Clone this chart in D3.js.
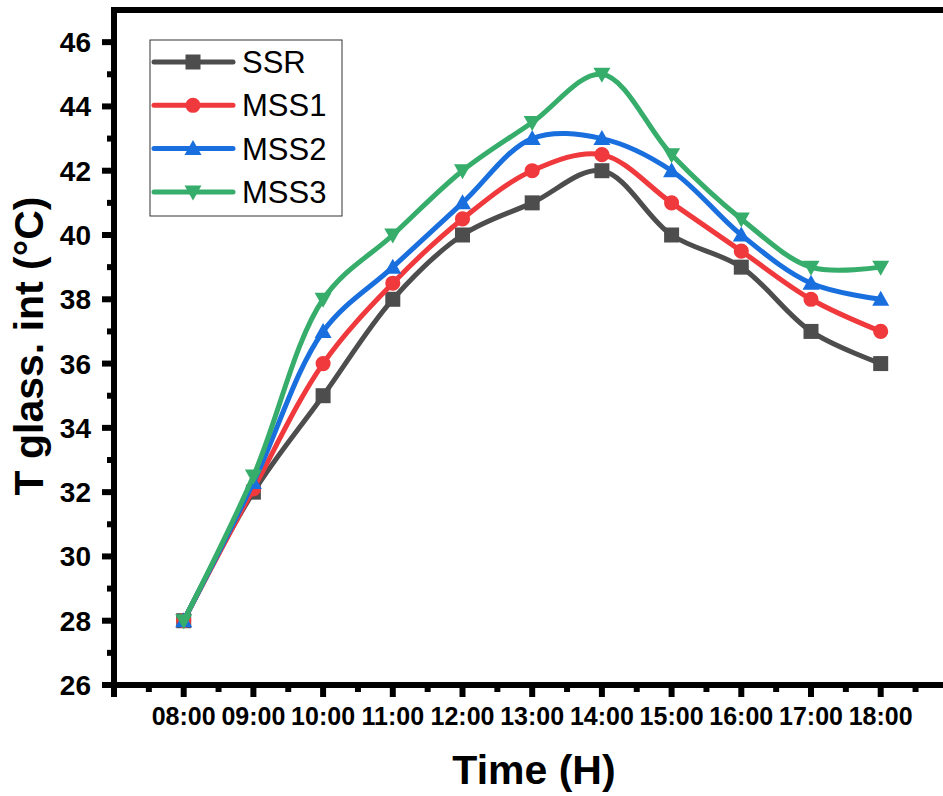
<!DOCTYPE html>
<html>
<head>
<meta charset="utf-8">
<script src="https://cdn.jsdelivr.net/npm/d3@7"></script>
<style>
	body { margin: 0; background: #fff; }
	svg { display: block; font-family: Arial, "Liberation Sans", sans-serif; }
</style>
</head>
<body>
<svg width="943" height="796"></svg>
<script>

	var hours = ["08:00", "09:00", "10:00", "11:00", "12:00", "13:00", "14:00", "15:00", "16:00", "17:00", "18:00"];

	var ssr  = [28, 32, 35, 38, 40, 41, 42, 40, 39, 37, 36];
	var mss1 = [28, 32.1, 36, 38.5, 40.5, 42, 42.5, 41, 39.5, 38, 37];
	var mss2 = [28, 32.3, 37, 39, 41, 43, 43, 42, 40, 38.5, 38];
	var mss3 = [28, 32.5, 38, 40, 42, 43.5, 45, 42.5, 40.5, 39, 39];

	var series_names = ["SSR", "MSS1", "MSS2", "MSS3"];
	var series_colors = ["#4d4d4d", "#f0393c", "#1a6fdf", "#37ad6b"];
	var series_symbols = [d3.symbolSquare, "circle", "tri_up", "tri_down"];

	var y_ticks = [26, 28, 30, 32, 34, 36, 38, 40, 42, 44, 46];

	var svg = d3.select("svg");

	// plot frame; right side falls just outside the picture like the original
	var left = 114, bottom = 685, top_y = 10;
	var x = d3.scaleLinear().domain([-1, 11]).range([left, left + 12 * 69.7]);
	var y = d3.scaleLinear().domain([26, 47]).range([bottom, top_y]);

	function marker_path(type, size){
		var s = size / 2;
		if(type === "circle"){
			return d3.symbol(d3.symbolCircle, size * size * 0.8)();
		} else if(type === "tri_up"){
			return "M0," + (-s - 1) + "L" + (s + 1) + "," + (s - 1) + "L" + (-s - 1) + "," + (s - 1) + "Z";
		} else if(type === "tri_down"){
			return "M0," + (s + 1) + "L" + (s + 1) + "," + (-s + 1) + "L" + (-s - 1) + "," + (-s + 1) + "Z";
		}
		return d3.symbol(type, size * size)();
	}

	// series
	var all_series = [ssr, mss1, mss2, mss3];
	var line = d3.line()
		.x(function(d, i){ return x(i); })
		.y(function(d){ return y(d); })
		.curve(d3.curveCatmullRom.alpha(0.5));

	var plot = svg.append("g");
	all_series.forEach(function(values, k){
		var g = plot.append("g");
		g.append("path")
			.attr("d", line(values))
			.attr("fill", "none")
			.attr("stroke", series_colors[k])
			.attr("stroke-width", 5)
			.attr("stroke-linejoin", "round");
		g.selectAll("path.m").data(values).enter()
			.append("path")
			.attr("class", "m")
			.attr("transform", function(d, i){ return "translate(" + x(i) + "," + y(d) + ")"; })
			.attr("d", marker_path(series_symbols[k], 15))
			.attr("fill", series_colors[k]);
	});

	// axes
	var x_major = d3.range(-1, 12);
	var x_minor = d3.range(-0.5, 12, 1);

	var axis = svg.append("g");
	axis.selectAll("line.xmaj").data(x_major).enter().append("line")
		.attr("x1", function(d){ return x(d); }).attr("x2", function(d){ return x(d); })
		.attr("y1", bottom).attr("y2", bottom + 12)
		.attr("stroke", "#000").attr("stroke-width", 6);
	axis.selectAll("line.xmin").data(x_minor).enter().append("line")
		.attr("x1", function(d){ return x(d); }).attr("x2", function(d){ return x(d); })
		.attr("y1", bottom).attr("y2", bottom + 7)
		.attr("stroke", "#000").attr("stroke-width", 6);

	axis.selectAll("text.xl").data(hours).enter().append("text")
		.attr("x", function(d, i){ return x(i); })
		.attr("y", 725)
		.attr("text-anchor", "middle")
		.attr("font-size", 25).attr("font-weight", "bold")
		.text(function(d){ return d; });

	var y_minor = d3.range(27, 47, 2);
	axis.selectAll("line.ymaj").data(y_ticks).enter().append("line")
		.attr("x1", left - 12).attr("x2", left)
		.attr("y1", function(d){ return y(d); }).attr("y2", function(d){ return y(d); })
		.attr("stroke", "#000").attr("stroke-width", 6);
	axis.selectAll("line.ymin").data(y_minor).enter().append("line")
		.attr("x1", left - 7).attr("x2", left)
		.attr("y1", function(d){ return y(d); }).attr("y2", function(d){ return y(d); })
		.attr("stroke", "#000").attr("stroke-width", 6);

	axis.selectAll("text.yl").data(y_ticks).enter().append("text")
		.attr("x", 91)
		.attr("y", function(d){ return y(d) + 10; })
		.attr("text-anchor", "end")
		.attr("font-size", 28).attr("font-weight", "bold")
		.text(function(d){ return d; });

	axis.append("line")
		.attr("x1", left).attr("x2", left)
		.attr("y1", top_y - 3).attr("y2", bottom + 3)
		.attr("stroke", "#000").attr("stroke-width", 6);
	axis.append("line")
		.attr("x1", left - 3).attr("x2", 960)
		.attr("y1", bottom).attr("y2", bottom)
		.attr("stroke", "#000").attr("stroke-width", 6);
	axis.append("line")
		.attr("x1", left - 3).attr("x2", 960)
		.attr("y1", top_y).attr("y2", top_y)
		.attr("stroke", "#000").attr("stroke-width", 6);

	// titles
	svg.append("text")
		.attr("x", 534).attr("y", 784)
		.attr("text-anchor", "middle")
		.attr("font-size", 41).attr("font-weight", "bold")
		.text("Time (H)");
	svg.append("text")
		.attr("transform", "translate(43,346) rotate(-90)")
		.attr("text-anchor", "middle")
		.attr("font-size", 41).attr("font-weight", "bold")
		.text("T glass. int (°C)");

	// legend
	var legend = svg.append("g");
	legend.append("rect")
		.attr("x", 150).attr("y", 40).attr("width", 192).attr("height", 176)
		.attr("fill", "#fff").attr("stroke", "#333").attr("stroke-width", 1);
	series_names.forEach(function(name, k){
		var ly = 62 + k * 43.3;
		legend.append("line")
			.attr("x1", 154).attr("x2", 233).attr("y1", ly).attr("y2", ly)
			.attr("stroke", series_colors[k]).attr("stroke-width", 5)
			.attr("stroke-linecap", "round");
		legend.append("path")
			.attr("transform", "translate(193," + ly + ")")
			.attr("d", marker_path(series_symbols[k], 15))
			.attr("fill", series_colors[k]);
		legend.append("text")
			.attr("x", 242).attr("y", ly + 11)
			.attr("font-size", 31)
			.text(name);
	});

</script>
</body>
</html>
